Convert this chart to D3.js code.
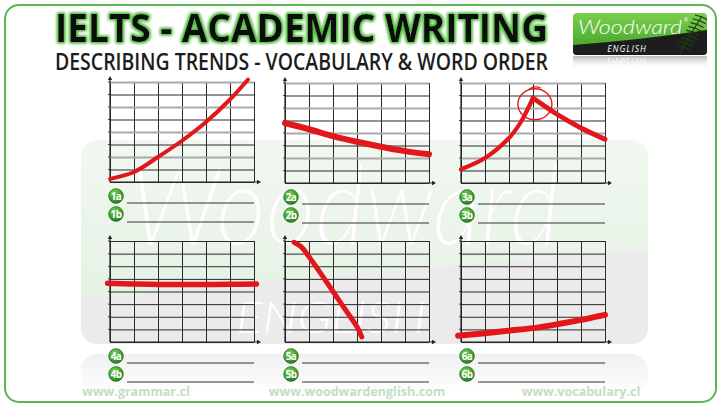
<!DOCTYPE html>
<html><head><meta charset="utf-8">
<script src="https://cdn.jsdelivr.net/npm/d3@7"></script>
<style>html,body{margin:0;padding:0;background:#fff}svg{display:block}</style>
</head><body>
<script>
// ---- data ----
const titleText = "IELTS - ACADEMIC WRITING";
const subtitleText = "DESCRIBING TRENDS - VOCABULARY & WORD ORDER";
const footerTexts = ["www.grammar.cl", "www.woodwardenglish.com", "www.vocabulary.cl"];
const panelIds = ["1", "2", "3", "4", "5", "6"];
const xTicks = [0, 1, 2, 3, 4, 5, 6];
const yTicks = [0, 1, 2, 3, 4, 5, 6, 7, 8];
const p1x = [0, 1, 2, 3, 4, 5, 5.75];
const p1y = [0.25, 0.8, 2.0, 3.3, 4.8, 6.6, 8.2];
const p2x = [0, 1, 2, 3, 4, 5, 6];
const p2y = [4.8, 4.3, 3.75, 3.3, 2.9, 2.55, 2.3];
const p3riseX = [0, 1, 2, 2.5, 3];
const p3riseY = [1.1, 2.0, 3.6, 4.9, 6.8];
const p3fallX = [3, 4, 5, 6];
const p3fallY = [6.8, 5.5, 4.4, 3.5];
const p3circle = [3.08, 6.3];
const p4x = [-0.1, 1, 2, 3, 4, 5, 6.1];
const p4y = [4.65, 4.6, 4.56, 4.55, 4.55, 4.57, 4.6];
const p5x = [0.375, 0.7, 1, 1.5, 2, 2.5, 3, 3.2];
const p5y = [7.9, 7.5, 6.75, 5.4, 4.0, 2.6, 1.2, 0.4];
const p6x = [-0.12, 1, 2, 3, 4, 5, 6];
const p6y = [0.5, 0.7, 0.9, 1.1, 1.4, 1.75, 2.15];

const W = 720, H = 405;
const svg = d3.select("body").append("svg").attr("width", W).attr("height", H);
const defs = svg.append("defs");

// filters / gradients
const glow = defs.append("filter").attr("id", "glow").attr("x", "-10%").attr("y", "-40%").attr("width", "120%").attr("height", "180%");
glow.append("feMorphology").attr("in", "SourceAlpha").attr("operator", "dilate").attr("radius", 1.4).attr("result", "d");
glow.append("feGaussianBlur").attr("in", "d").attr("stdDeviation", 1.8).attr("result", "b");
glow.append("feFlood").attr("flood-color", "#55bd40");
glow.append("feComposite").attr("in2", "b").attr("operator", "in").attr("result", "g");
const gm = glow.append("feMerge");
gm.append("feMergeNode").attr("in", "g");
gm.append("feMergeNode").attr("in", "g");
gm.append("feMergeNode").attr("in", "SourceGraphic");

const ball = defs.append("radialGradient").attr("id", "ball").attr("cx", "40%").attr("cy", "30%").attr("r", "70%");
ball.append("stop").attr("offset", "0%").attr("stop-color", "#78cf58");
ball.append("stop").attr("offset", "100%").attr("stop-color", "#267f1e");

const wm = defs.append("linearGradient").attr("id", "wm").attr("x1", 0).attr("y1", 0).attr("x2", 0).attr("y2", 1);
wm.append("stop").attr("offset", "0%").attr("stop-color", "#f1f8f0");
wm.append("stop").attr("offset", "100%").attr("stop-color", "#e3f0e2");

const logoG = defs.append("linearGradient").attr("id", "logoG").attr("x1", 0).attr("y1", 0).attr("x2", 0).attr("y2", 1);
logoG.append("stop").attr("offset", "0%").attr("stop-color", "#7ccf4e");
logoG.append("stop").attr("offset", "100%").attr("stop-color", "#3c9e25");

const refl = defs.append("linearGradient").attr("id", "refl").attr("x1", 0).attr("y1", 0).attr("x2", 0).attr("y2", 1);
refl.append("stop").attr("offset", "0%").attr("stop-color", "#9a9a9a").attr("stop-opacity", 0.7);
refl.append("stop").attr("offset", "100%").attr("stop-color", "#ffffff").attr("stop-opacity", 0);

const wmRefl = defs.append("linearGradient").attr("id", "wmRefl").attr("x1", 0).attr("y1", 0).attr("x2", 0).attr("y2", 1);
wmRefl.append("stop").attr("offset", "0%").attr("stop-color", "#f0f0f0");
wmRefl.append("stop").attr("offset", "100%").attr("stop-color", "#ffffff");

defs.append("clipPath").attr("id", "wmClip").append("rect")
  .attr("x", 81).attr("y", 140).attr("width", 567).attr("height", 204).attr("rx", 16);
defs.append("clipPath").attr("id", "logoClip").append("rect")
  .attr("x", 573).attr("y", 13).attr("width", 134).attr("height", 42).attr("rx", 4);

// ---- watermark background ----
const wmg = svg.append("g");
wmg.append("rect").attr("x", 81).attr("y", 354).attr("width", 567).attr("height", 40).attr("rx", 16).attr("fill", "url(#wmRefl)");
const wmIn = wmg.append("g").attr("clip-path", "url(#wmClip)");
wmIn.append("rect").attr("x", 81).attr("y", 140).attr("width", 567).attr("height", 204).attr("fill", "url(#wm)");
wmIn.append("path").attr("d", "M81,300 Q360,272 648,250 L648,344 L81,344 Z").attr("fill", "#ebebeb");
wmIn.append("text").attr("x", 130).attr("y", 245).attr("font-family", "Lato").attr("font-style", "italic").attr("font-weight", 300)
  .attr("font-size", 110).attr("fill", "#ffffff").attr("stroke", "#f0f0f0").attr("stroke-width", 1)
  .attr("textLength", 430).attr("lengthAdjust", "spacingAndGlyphs").text("Woodward");
wmIn.append("text").attr("x", 236).attr("y", 333).attr("font-family", "Lato").attr("font-style", "italic").attr("font-weight", 300)
  .attr("font-size", 44).attr("fill", "#ffffff").attr("textLength", 190).attr("lengthAdjust", "spacingAndGlyphs").text("ENGLISH");

// ---- outer border ----
svg.append("rect").attr("x", 5).attr("y", 5).attr("width", 711).attr("height", 397).attr("rx", 14)
  .attr("fill", "none").attr("stroke", "#59b556").attr("stroke-width", 2);

// ---- title ----
svg.append("text").attr("x", 55).attr("y", 42).attr("font-family", "Open Sans").attr("font-weight", 700)
  .attr("font-size", 40).attr("fill", "#0d0d0d").attr("filter", "url(#glow)")
  .attr("textLength", 493).attr("lengthAdjust", "spacingAndGlyphs").text(titleText);
svg.append("text").attr("x", 55).attr("y", 70).attr("font-family", "Open Sans").attr("font-weight", 600)
  .attr("font-size", 23.5).attr("fill", "#1c1c1c")
  .attr("textLength", 493).attr("lengthAdjust", "spacingAndGlyphs").text(subtitleText);

// ---- logo ----
const lg = svg.append("g");
const lgIn = lg.append("g").attr("clip-path", "url(#logoClip)");
lgIn.append("rect").attr("x", 573).attr("y", 13).attr("width", 134).attr("height", 42).attr("fill", "url(#logoG)");
lgIn.append("path").attr("d", "M573,45 Q640,40 707,30 L707,55 L573,55 Z").attr("fill", "#1d1d1d");
const fern = lgIn.append("g").attr("stroke", "#1f3d14").attr("stroke-width", 1.2).attr("fill", "none");
fern.append("path").attr("d", "M702,16 Q690,34 680,54");
for (let i = 0; i < 9; i++) {
  const t = i / 9, sx = 702 - 20 * t, sy = 17 + 34 * t;
  fern.append("path").attr("d", `M${sx},${sy} l-7,-2 M${sx},${sy} l6,3`);
}
lg.append("text").attr("x", 578).attr("y", 34).attr("font-family", "Lato").attr("font-style", "italic").attr("font-weight", 300)
  .attr("font-size", 19).attr("fill", "#ffffff").attr("textLength", 104).attr("lengthAdjust", "spacingAndGlyphs").text("Woodward");
lg.append("text").attr("x", 684).attr("y", 22).attr("font-family", "Open Sans").attr("font-size", 5).attr("fill", "#fff").text("®");
lg.append("text").attr("x", 627).attr("y", 52).attr("text-anchor", "middle").attr("font-family", "Open Sans").attr("font-style", "italic")
  .attr("font-size", 8.5).attr("fill", "#ffffff").attr("letter-spacing", 1).text("ENGLISH");
lg.append("rect").attr("x", 573).attr("y", 56).attr("width", 134).attr("height", 13).attr("fill", "url(#refl)");
lg.append("text").attr("x", 627).attr("y", 58).attr("text-anchor", "middle").attr("transform", "translate(0,116) scale(1,-1)")
  .attr("font-family", "Open Sans").attr("font-style", "italic").attr("font-size", 8.5).attr("fill", "#ffffff").attr("opacity", 0.8)
  .attr("letter-spacing", 1).text("ENGLISH");

// ---- panels ----
const panels = [
  {id: "1", left: 110, top: 82, bottom: 182, gray: true, lines: [{x: p1x, y: p1y, w: 4}]},
  {id: "2", left: 285, top: 83, bottom: 183, gray: true, lines: [{x: p2x, y: p2y, w: 6}]},
  {id: "3", left: 461, top: 83, bottom: 183, gray: true, lines: [{x: p3riseX, y: p3riseY, w: 4.2}, {x: p3fallX, y: p3fallY, w: 4.8}], circle: p3circle},
  {id: "4", left: 110, top: 241, bottom: 342, gray: false, lines: [{x: p4x, y: p4y, w: 5.5}]},
  {id: "5", left: 285, top: 241, bottom: 342, gray: false, lines: [{x: p5x, y: p5y, w: 5}]},
  {id: "6", left: 461, top: 241, bottom: 342, gray: false, lines: [{x: p6x, y: p6y, w: 6}]}
];
const PW = 144;

panels.forEach(p => {
  const g = svg.append("g");
  const x = d3.scaleLinear().domain([0, 6]).range([p.left, p.left + PW]);
  const y = d3.scaleLinear().domain([0, 8]).range([p.bottom, p.top]);
  const h = p.bottom - p.top;

  const gx = g.append("g").attr("transform", `translate(0,${p.bottom})`)
    .call(d3.axisBottom(x).tickValues(xTicks).tickSize(-h).tickFormat(""));
  gx.select(".domain").remove();
  gx.selectAll(".tick line").attr("stroke", "#2a2a2a").attr("stroke-width", 1);
  const gy = g.append("g").attr("transform", `translate(${p.left},0)`)
    .call(d3.axisLeft(y).tickValues(yTicks).tickSize(-PW).tickFormat(""));
  gy.select(".domain").remove();
  gy.selectAll(".tick line")
    .attr("stroke", d => (p.gray && d % 2 === 0 && d > 0) ? "#a9a9a9" : "#2a2a2a")
    .attr("stroke-width", d => (p.gray && d % 2 === 0 && d > 0) ? 2 : 1);
  g.selectAll(".lt").data(yTicks.slice(1)).enter().append("line")
    .attr("x1", p.left - 2).attr("x2", p.left).attr("y1", d => y(d)).attr("y2", d => y(d))
    .attr("stroke", "#444").attr("stroke-width", 1);
  g.append("line").attr("x1", x(0)).attr("x2", x(0)).attr("y1", y(0)).attr("y2", p.top - 3)
    .attr("stroke", "#222").attr("stroke-width", 1.2);
  g.append("path").attr("d", `M${x(0) - 2.2},${p.top - 2} L${x(0)},${p.top - 6} L${x(0) + 2.2},${p.top - 2} Z`).attr("fill", "#222");
  g.append("line").attr("x1", x(0)).attr("x2", x(6) + 4).attr("y1", y(0)).attr("y2", y(0))
    .attr("stroke", "#222").attr("stroke-width", 1.2);
  g.append("path").attr("d", `M${x(6) + 3},${y(0) - 2.2} L${x(6) + 7},${y(0)} L${x(6) + 3},${y(0) + 2.2} Z`).attr("fill", "#222");

  p.lines.forEach(L => {
    const pts = L.x.map((v, i) => [v, L.y[i]]);
    const line = d3.line().x(d => x(d[0])).y(d => y(d[1])).curve(d3.curveCatmullRom.alpha(0.5));
    g.append("path").attr("d", line(pts)).attr("fill", "none").attr("stroke", "#e3161b")
      .attr("stroke-width", L.w).attr("stroke-linecap", "round").attr("stroke-linejoin", "round");
  });
  if (p.circle) {
    const cx = x(p.circle[0]), cy = y(p.circle[1]);
    g.append("ellipse").attr("cx", cx).attr("cy", cy).attr("rx", 17).attr("ry", 15.5)
      .attr("fill", "none").attr("stroke", "#e3161b").attr("stroke-width", 1.4);
    g.append("path").attr("d", `M${cx - 6},${cy - 15} q6,-4 12,-1`).attr("fill", "none").attr("stroke", "#e3161b").attr("stroke-width", 1.2);
  }

  ["a", "b"].forEach((s, i) => {
    const cy = p.bottom + 14 + i * 18;
    const lineY = cy + 7 + i * 1;
    g.append("circle").attr("cx", p.left + 6).attr("cy", cy).attr("r", 7.4).attr("fill", "url(#ball)")
      .attr("stroke", "#1f6e18").attr("stroke-width", 0.6);
    g.append("text").attr("x", p.left + 6).attr("y", cy + 3.6).attr("text-anchor", "middle")
      .attr("font-family", "Open Sans").attr("font-weight", 700).attr("font-size", 10).attr("fill", "#fff")
      .attr("letter-spacing", -0.6).text(p.id + s);
    g.append("line").attr("x1", p.left + 17).attr("x2", p.left + PW).attr("y1", lineY).attr("y2", lineY)
      .attr("stroke", "#333").attr("stroke-width", 1);
  });
});

// ---- footer ----
const fx = [136, 357, 581];
svg.selectAll(".foot").data(footerTexts).enter().append("text")
  .attr("x", (d, i) => fx[i]).attr("y", 396).attr("text-anchor", "middle")
  .attr("font-family", "Open Sans").attr("font-weight", 700).attr("font-size", 12.5)
  .attr("fill", "#c2dfc2").text(d => d);
</script>
</body></html>
